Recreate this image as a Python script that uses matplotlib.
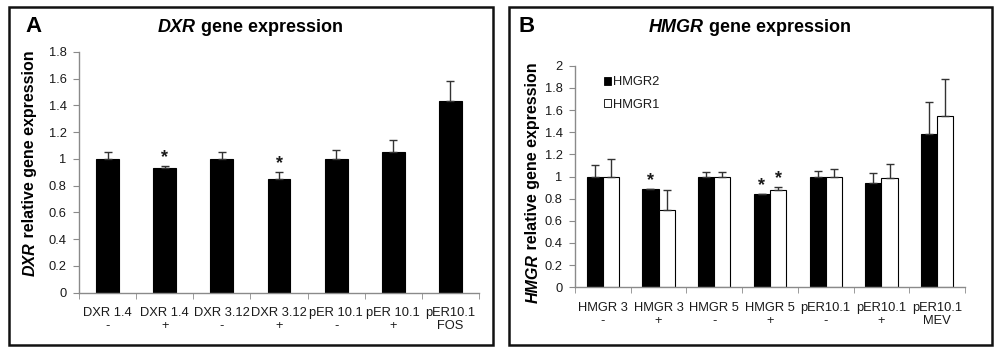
import matplotlib
matplotlib.use("Agg")
import matplotlib.pyplot as plt
from matplotlib.patches import Rectangle, Patch
import numpy as np

plt.rcParams['font.family'] = ['Liberation Sans', 'DejaVu Sans']

# ---------------- data ----------------
dxr_categories = ["DXR 1.4\n-", "DXR 1.4\n+", "DXR 3.12\n-", "DXR 3.12\n+",
                  "pER 10.1\n-", "pER 10.1\n+", "pER10.1\nFOS"]
dxr_values = [1.00, 0.93, 1.00, 0.85, 1.00, 1.05, 1.43]
dxr_errors = [0.05, 0.02, 0.05, 0.055, 0.07, 0.095, 0.155]
dxr_star = [False, True, False, True, False, False, False]

hmgr_categories = ["HMGR 3\n-", "HMGR 3\n+", "HMGR 5\n-", "HMGR 5\n+",
                   "pER10.1\n-", "pER10.1\n+", "pER10.1\nMEV"]
hmgr2_values = [1.00, 0.89, 1.00, 0.84, 1.00, 0.94, 1.38]
hmgr2_errors = [0.10, 0.0, 0.045, 0.005, 0.05, 0.09, 0.29]
hmgr2_star = [False, True, False, True, False, False, False]
hmgr1_values = [1.00, 0.70, 1.00, 0.875, 1.00, 0.99, 1.55]
hmgr1_errors = [0.155, 0.175, 0.045, 0.03, 0.07, 0.125, 0.33]
hmgr1_star = [False, False, False, True, False, False, False]

W, H = 1000, 356
fig = plt.figure(figsize=(W / 100, H / 100), dpi=100)
fig.patch.set_facecolor('white')

# overlay in pixel coordinates
ov = fig.add_axes([0, 0, 1, 1], zorder=-1)
ov.set_xlim(0, W)
ov.set_ylim(H, 0)
ov.axis('off')

for (x0, x1) in [(9, 493), (509, 992)]:
    ov.add_patch(Rectangle((x0, 7), x1 - x0, 338, fill=False, lw=1.8, ec='#111111'))

GRAY = '#8a8a8a'
TXT = '#1a1a1a'
TICK_FS = 9.3


def style_axes(ax, ymax, ystep, cats, xpad):
    ax.set_xlim(-0.5, len(cats) - 0.5)
    ax.set_ylim(0, ymax)
    for s in ['top', 'right']:
        ax.spines[s].set_visible(False)
    for s in ['left', 'bottom']:
        ax.spines[s].set_color(GRAY)
        ax.spines[s].set_linewidth(1.0)
    yt = np.round(np.arange(0, ymax + 1e-9, ystep), 1)
    ax.set_yticks(yt)
    ax.set_yticklabels([('%g' % v) for v in yt])
    ax.tick_params(axis='y', direction='out', length=4, color=GRAY, labelsize=TICK_FS,
                   labelcolor=TXT, pad=5)
    ax.set_xticks(range(len(cats)))
    ax.set_xticklabels(cats, fontsize=TICK_FS, color=TXT, linespacing=1.12)
    ax.tick_params(axis='x', which='major', length=0, pad=xpad)
    ax.set_xticks(np.arange(-0.5, len(cats) + 0.5, 1.0), minor=True)
    ax.tick_params(axis='x', which='minor', direction='out', length=4, color=GRAY)
    ax.patch.set_alpha(0)


def stars(ax, xs, vals, errs, flags):
    for x, v, e, f in zip(xs, vals, errs, flags):
        if f:
            ax.annotate('*', xy=(x, v + e), xytext=(0, 0), textcoords='offset points',
                        ha='center', va='bottom', fontsize=13, fontweight='bold', color=TXT)


# ---------------- panel A ----------------
axA = fig.add_axes([0.079, 1 - 292.7 / H, 0.400, (292.7 - 52) / H])
xA = np.arange(len(dxr_categories))
axA.bar(xA, dxr_values, width=0.4, color='black', edgecolor='black', lw=0.8, zorder=2)
axA.errorbar(xA, dxr_values, yerr=[np.zeros(len(xA)), dxr_errors], fmt='none',
             ecolor='#333333', elinewidth=1.0, capsize=3, capthick=1.0, zorder=3)
style_axes(axA, 1.8, 0.2, dxr_categories, 10.5)
stars(axA, xA, dxr_values, dxr_errors, dxr_star)

# ---------------- panel B ----------------
axB = fig.add_axes([0.575, 1 - 287.3 / H, 0.390, (287.3 - 65.7) / H])
xB = np.arange(len(hmgr_categories))
bw = 0.29
axB.bar(xB - bw / 2, hmgr2_values, width=bw, color='black', edgecolor='black', lw=0.8,
        zorder=2, label='HMGR2')
axB.bar(xB + bw / 2, hmgr1_values, width=bw, color='white', edgecolor='black', lw=0.8,
        zorder=2, label='HMGR1')
axB.errorbar(xB - bw / 2, hmgr2_values, yerr=[np.zeros(len(xB)), hmgr2_errors], fmt='none',
             ecolor='#333333', elinewidth=1.0, capsize=3, capthick=1.0, zorder=3)
axB.errorbar(xB + bw / 2, hmgr1_values, yerr=[np.zeros(len(xB)), hmgr1_errors], fmt='none',
             ecolor='#333333', elinewidth=1.0, capsize=3, capthick=1.0, zorder=3)
style_axes(axB, 2.0, 0.2, hmgr_categories, 10.5)
stars(axB, xB - bw / 2, hmgr2_values, hmgr2_errors, hmgr2_star)
stars(axB, xB + bw / 2, hmgr1_values, hmgr1_errors, hmgr1_star)
leg = axB.legend(handles=[Patch(facecolor='black', edgecolor='black', lw=0.6, label='HMGR2'),
                          Patch(facecolor='white', edgecolor='black', lw=0.6, label='HMGR1')],
                 loc='upper left', bbox_to_anchor=(0.06, 0.975), frameon=False,
                 fontsize=TICK_FS, handlelength=0.55, handleheight=0.55, handletextpad=0.2,
                 labelspacing=0.8, borderaxespad=0)
for t in leg.get_texts():
    t.set_color(TXT)

# ---------------- texts ----------------
ov.text(33, 26, 'A', fontsize=16, fontweight='bold', ha='center', va='center', color='black')
ov.text(527, 26, 'B', fontsize=16, fontweight='bold', ha='center', va='center', color='black')

fig.canvas.draw()
renderer = fig.canvas.get_renderer()


def mixed(x, y, parts, size, rotation=0):
    """parts: list of (text, italic). centred on (x, y) in pixel coords."""
    objs = []
    for s, it in parts:
        t = ov.text(0, 0, s, fontsize=size, fontweight='bold',
                    fontstyle='italic' if it else 'normal', rotation=rotation,
                    ha='left' if rotation == 0 else 'center',
                    va='center' if rotation == 0 else 'bottom', color='black')
        objs.append(t)
    sizes = []
    for t in objs:
        bb = t.get_window_extent(renderer)
        sizes.append(bb.width if rotation == 0 else bb.height)
    total = sum(sizes)
    if rotation == 0:
        cur = x - total / 2
        for t, s in zip(objs, sizes):
            t.set_position((cur, y))
            cur += s
    else:
        cur = y + total / 2  # bottom in pixel (y downward)
        for t, s in zip(objs, sizes):
            t.set_position((x, cur))
            cur -= s


mixed(250, 28, [('DXR', True), (' gene expression', False)], 13)
mixed(750, 28, [('HMGR', True), (' gene expression', False)], 13)
mixed(30, 163, [('DXR', True), (' relative gene expression', False)], 11.5, rotation=90)
mixed(533, 183, [('HMGR', True), (' relative gene expression', False)], 11.5, rotation=90)

fig.savefig('out.png', dpi=100, facecolor='white')
